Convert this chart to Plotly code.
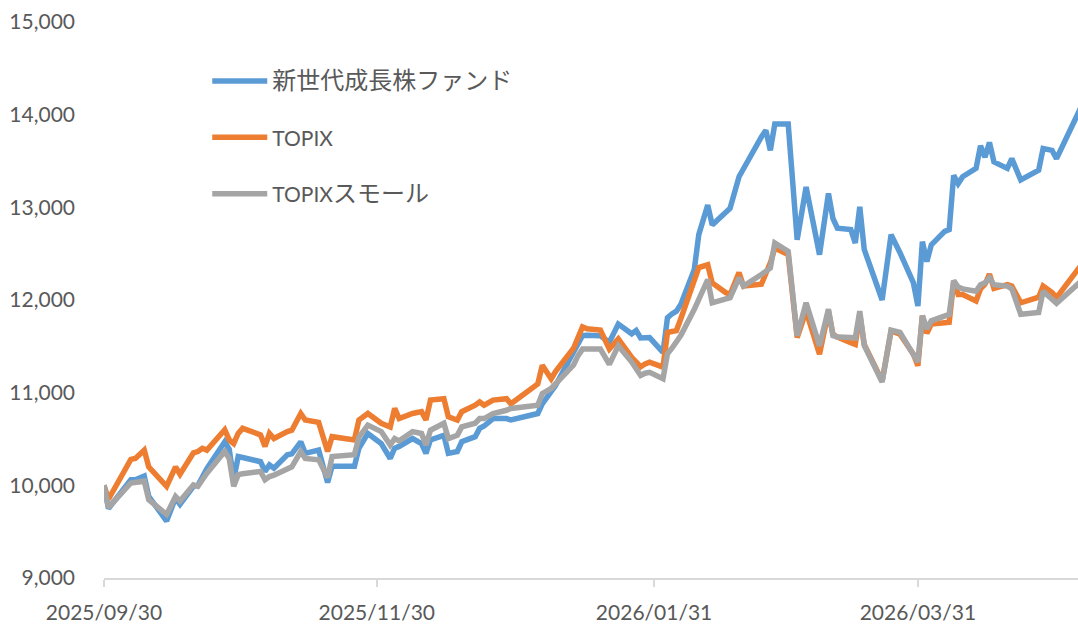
import plotly.graph_objects as go

# 基準日 2025/09/30 = 10,000
dates = [
    "2025-09-30", "2025-10-01", "2025-10-06", "2025-10-07", "2025-10-09", "2025-10-10",
    "2025-10-14", "2025-10-16", "2025-10-17", "2025-10-20", "2025-10-21", "2025-10-22",
    "2025-10-23", "2025-10-27", "2025-10-28", "2025-10-29", "2025-10-30", "2025-10-31",
    "2025-11-04", "2025-11-05", "2025-11-06", "2025-11-07", "2025-11-10", "2025-11-11",
    "2025-11-13", "2025-11-14", "2025-11-17", "2025-11-19", "2025-11-20", "2025-11-25",
    "2025-11-26", "2025-11-28", "2025-12-01", "2025-12-03", "2025-12-04", "2025-12-05",
    "2025-12-08", "2025-12-10", "2025-12-11", "2025-12-12", "2025-12-15", "2025-12-16",
    "2025-12-18", "2025-12-19", "2025-12-22", "2025-12-23", "2025-12-24", "2025-12-26",
    "2025-12-29", "2025-12-30", "2026-01-05", "2026-01-06", "2026-01-08", "2026-01-09",
    "2026-01-13", "2026-01-14", "2026-01-15", "2026-01-16", "2026-01-19", "2026-01-21",
    "2026-01-23", "2026-01-26", "2026-01-27", "2026-01-28", "2026-01-29", "2026-01-30",
    "2026-02-02", "2026-02-03", "2026-02-04", "2026-02-05", "2026-02-06", "2026-02-09",
    "2026-02-10", "2026-02-12", "2026-02-13", "2026-02-16", "2026-02-17", "2026-02-19",
    "2026-02-20", "2026-02-24", "2026-02-25", "2026-02-26", "2026-02-27", "2026-03-02",
    "2026-03-04", "2026-03-06", "2026-03-09", "2026-03-11", "2026-03-12", "2026-03-13",
    "2026-03-16", "2026-03-17", "2026-03-18", "2026-03-19", "2026-03-23", "2026-03-25",
    "2026-03-27", "2026-03-30", "2026-03-31", "2026-04-01", "2026-04-02", "2026-04-03",
    "2026-04-06", "2026-04-07", "2026-04-08", "2026-04-09", "2026-04-10", "2026-04-13",
    "2026-04-14", "2026-04-15", "2026-04-16", "2026-04-17", "2026-04-20", "2026-04-21",
    "2026-04-23", "2026-04-27", "2026-04-28", "2026-04-30", "2026-05-01", "2026-05-07",
]

fund = [
    10000, 9750, 10060, 10060, 10100, 9880,
    9615, 9865, 9795, 9990, 10000, 10090,
    10180, 10470, 10390, 10060, 10310, 10300,
    10255, 10150, 10220, 10185, 10330, 10340,
    10470, 10345, 10380, 10030, 10205, 10205,
    10400, 10560, 10450, 10290, 10400, 10420,
    10505, 10450, 10345, 10490, 10540, 10345,
    10365, 10470, 10525, 10615, 10640, 10720,
    10720, 10705, 10775, 10880, 11000, 11080,
    11440, 11530, 11615, 11620, 11615, 11545,
    11740, 11635, 11670, 11590, 11595, 11595,
    11435, 11810, 11850, 11880, 11955, 12330,
    12705, 13025, 12810, 12950, 12990, 13330,
    13420, 13760, 13830, 13615, 13900, 13900,
    12650, 13220, 12490, 13150, 12880, 12775,
    12760, 12615, 13005, 12545, 12000, 12705,
    12510, 12185, 11935, 12630, 12415, 12595,
    12740, 12760, 13345, 13255, 13330, 13420,
    13665, 13540, 13700, 13490, 13420, 13525,
    13295, 13400, 13635, 13615, 13525, 14135,
]

topix = [
    10000, 9850, 10280, 10290, 10380, 10200,
    9990, 10200, 10120, 10350, 10365, 10400,
    10380, 10600, 10490, 10450, 10560, 10615,
    10545, 10420, 10560, 10505, 10580, 10595,
    10775, 10705, 10680, 10365, 10525, 10490,
    10705, 10775, 10670, 10630, 10830, 10720,
    10775, 10795, 10705, 10920, 10935, 10740,
    10705, 10795, 10865, 10900, 10865, 10920,
    10935, 10880, 11095, 11295, 11150, 11230,
    11480, 11600, 11710, 11690, 11675, 11470,
    11580, 11380, 11330, 11280, 11310, 11330,
    11275, 11650, 11660, 11670, 11800, 12230,
    12350, 12380, 12185, 12080, 12060, 12295,
    12150, 12170, 12280, 12400, 12560, 12490,
    11595, 11880, 11415, 11880, 11630, 11600,
    11540, 11520, 11845, 11520, 11125, 11665,
    11630, 11415, 11290, 11830, 11640, 11740,
    11755, 11760, 12200, 12060, 12060, 11990,
    12120, 12170, 12280, 12125, 12165, 12150,
    11970, 12030, 12150, 12080, 12025, 12408,
]

topix_small = [
    10000, 9760, 10025, 10030, 10045, 9845,
    9685, 9880, 9830, 10005, 9990, 10060,
    10130, 10365, 10290, 9990, 10115, 10125,
    10150, 10060, 10095, 10110, 10180, 10200,
    10365, 10290, 10275, 10085, 10310, 10330,
    10520, 10650, 10580, 10435, 10505, 10480,
    10580, 10560, 10435, 10595, 10670, 10505,
    10540, 10630, 10670, 10720, 10720, 10775,
    10810, 10830, 10865, 10990, 11045, 11100,
    11300, 11400, 11470, 11470, 11470, 11305,
    11505, 11330, 11250, 11185, 11210, 11220,
    11150, 11420, 11480, 11545, 11620, 11900,
    12000, 12220, 11970, 12010, 12025, 12240,
    12150, 12275, 12310, 12345, 12615, 12525,
    11615, 11970, 11505, 11900, 11615, 11600,
    11595, 11590, 11880, 11510, 11115, 11675,
    11650, 11400, 11330, 11830, 11690, 11775,
    11835, 11845, 12210, 12140, 12120, 12095,
    12165, 12185, 12240, 12165, 12150, 12120,
    11845, 11865, 12095, 12020, 11965, 12225,
]

# 凡例名（和文部分は少し大きめに）
series_names = [
    '<span style="font-size:24px">新世代成長株ファンド</span>',
    "TOPIX",
    'TOPIX<span style="font-size:24px">スモール</span>',
]
series_colors = ["#5B9BD5", "#ED7D31", "#A5A5A5"]

tick_dates = ["2025-09-30", "2025-11-30", "2026-01-31", "2026-03-31"]
tick_labels = ["2025/09/30", "2025/11/30", "2026/01/31", "2026/03/31"]

font_family = "Lato, 'Noto Sans CJK JP', sans-serif"
text_color = "#595959"

fig = go.Figure()
for name, values, color in zip(series_names, [fund, topix, topix_small], series_colors):
    fig.add_trace(go.Scatter(
        x=dates, y=values, name=name, mode="lines",
        line=dict(color=color, width=5.5),
        legendgroup=name,
    ))

fig.update_layout(
    width=1078, height=624,
    margin=dict(l=104, r=0, t=22, b=42),
    paper_bgcolor="white", plot_bgcolor="white",
    font=dict(family=font_family, size=21, color=text_color),
    legend=dict(
        x=0.106, y=0.93, xanchor="left", yanchor="top",
        bgcolor="rgba(0,0,0,0)", tracegroupgap=26, itemwidth=55,
        font=dict(family=font_family, size=21, color=text_color),
    ),
)

fig.update_xaxes(
    type="date",
    range=["2025-09-30", "2026-05-05 19:12"],
    tickvals=tick_dates, ticktext=tick_labels,
    showgrid=False, zeroline=False,
    showline=True, linecolor="#D9D9D9", linewidth=1.5,
    ticks="outside", ticklen=7, tickcolor="#D9D9D9", tickwidth=1.5,
    ticklabelstandoff=8,
)

fig.update_yaxes(
    range=[9000, 15000],
    tickvals=[9000, 10000, 11000, 12000, 13000, 14000, 15000],
    tickformat=",d",
    showgrid=False, zeroline=False, showline=False,
    ticklabelstandoff=28,
)

# ページ既定の余白を消して、図をウィンドウにぴったり合わせる
fig.write_html(
    "out.html",
    config={"displayModeBar": False},
    post_script="document.body.style.margin = '0';",
)
